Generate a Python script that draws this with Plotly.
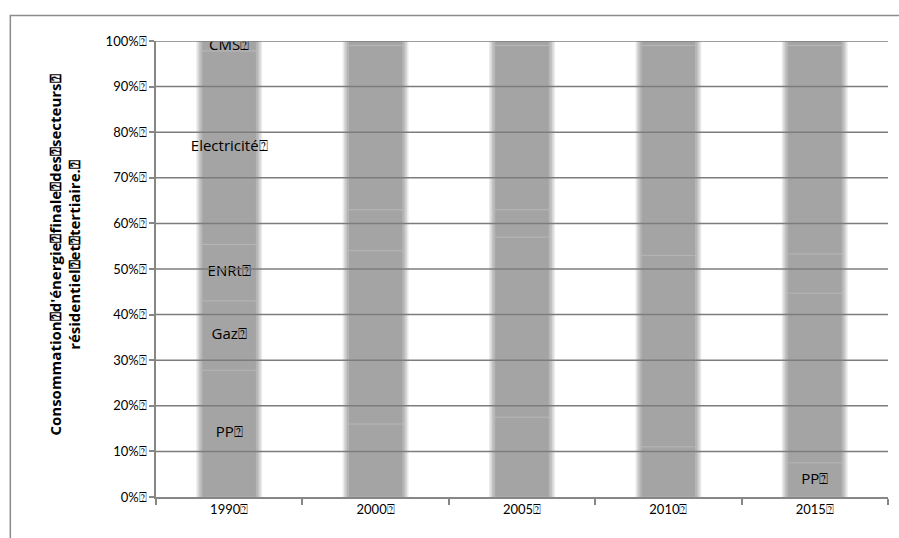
import plotly.graph_objects as go

years = ["1990", "2000", "2005", "2010", "2015"]
tick_labels = ["1990⍰", "2000⍰", "2005⍰", "2010⍰", "2015⍰"]
y_ticks = [0, 10, 20, 30, 40, 50, 60, 70, 80, 90, 100]
y_tick_labels = ["0%⍰", "10%⍰", "20%⍰", "30%⍰", "40%⍰", "50%⍰",
                 "60%⍰", "70%⍰", "80%⍰", "90%⍰", "100%⍰"]
series_names = ["PP", "Gaz", "ENRt", "Electricité", "CMS"]
pp = [27.8, 16.0, 17.5, 11.0, 7.5]
gaz = [15.2, 38.0, 39.5, 42.0, 37.2]
enrt = [12.4, 9.0, 6.0, 7.0, 8.6]
electricite = [42.4, 36.0, 36.0, 39.0, 45.7]
cms = [2.2, 1.0, 1.0, 1.0, 1.0]
# which points carry a data label
label_points = {"PP": ["1990", "2015"], "Gaz": ["1990"], "ENRt": ["1990"],
                "Electricité": ["1990"], "CMS": ["1990"]}

values = [pp, gaz, enrt, electricite, cms]
FONT = "Lato, 'Open Sans', sans-serif"
LFONT = "'Open Sans', Lato, sans-serif"
AXC = "#868686"

pos = list(range(len(years)))          # category positions on a linear axis
lo, hi = -0.5, len(years) - 0.5
bounds = [p - 0.5 for p in pos] + [hi]

fig = go.Figure()

totals = [sum(v[i] for v in values) for i in range(len(years))]
# soft-edged grey bars: several overlaid translucent layers
for w in [0.45, 0.43, 0.41, 0.39, 0.37]:
    fig.add_trace(go.Bar(x=pos, y=totals, width=w, marker_color="rgba(0,0,0,0.0825)",
                         marker_line_width=0, hoverinfo="skip", showlegend=False))

# segments (faint light boundaries)
base = [0.0] * len(years)
label_x, label_y, label_t = [], [], []
for name, vals in zip(series_names, values):
    fig.add_trace(go.Bar(x=pos, y=vals, base=base[:], width=0.37, name=name,
                         marker_color="rgba(0,0,0,0)",
                         marker_line=dict(color="rgba(255,255,255,0.12)", width=1),
                         showlegend=False))
    for i, yr in enumerate(years):
        if yr in label_points[name]:
            label_x.append(pos[i])
            label_y.append(base[i] + vals[i] / 2)
            label_t.append(name + "⍰")
    base = [b + v for b, v in zip(base, vals)]

fig.add_trace(go.Scatter(x=label_x, y=label_y, mode="text", text=label_t,
                         textfont=dict(family=LFONT, size=15, color="#000000"),
                         showlegend=False, hoverinfo="skip"))

# horizontal gridlines drawn above the bars
grid_shapes = [dict(type="line", xref="paper", x0=0, x1=1, yref="y", y0=t, y1=t,
                    line=dict(color="#7c7c7c", width=1.5), layer="above")
               for t in y_ticks[1:]]
border = dict(type="rect", xref="paper", yref="paper", x0=-0.199, x1=1.2, y0=-0.3, y1=1.056,
              line=dict(color="#8c8c8c", width=1.5), fillcolor="rgba(0,0,0,0)", layer="below")

fig.update_layout(
    width=899, height=538,
    barmode="overlay",
    plot_bgcolor="white", paper_bgcolor="white",
    margin=dict(l=156, r=11, t=41, b=41),
    font=dict(family=FONT, size=13, color="#000000"),
    xaxis=dict(range=[lo, hi], tickvals=pos, ticktext=tick_labels, ticks="",
               showline=True, linecolor=AXC, linewidth=1.5, zeroline=False,
               showgrid=False, tickfont=dict(family=FONT, size=13),
               minor=dict(tickvals=bounds, ticks="outside", ticklen=6,
                          tickcolor=AXC, tickwidth=1.5, showgrid=False)),
    yaxis=dict(range=[y_ticks[0], y_ticks[-1]], tickvals=y_ticks, ticktext=y_tick_labels,
               ticks="outside", ticklen=5, tickcolor=AXC, tickwidth=1.5, showline=True,
               linecolor=AXC, linewidth=1.5, showgrid=False, zeroline=False,
               tickfont=dict(family=FONT, size=13)),
    annotations=[dict(text="<b>Consommation⍰d'énergie⍰finale⍰des⍰secteurs⍰<br>résidentiel⍰et⍰tertiaire.⍰</b>",
                      xref="paper", yref="paper", x=-0.124, y=0.53, textangle=-90,
                      showarrow=False, font=dict(family=LFONT, size=15, color="#000000"),
                      xanchor="center", yanchor="middle")],
    shapes=grid_shapes + [border],
)

fig.write_html("out.html")
